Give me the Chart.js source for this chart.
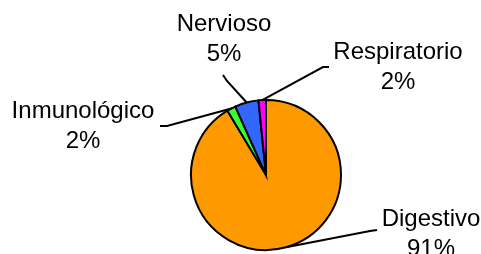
<!DOCTYPE html>
<html><head><meta charset="utf-8">
<script src="https://cdn.jsdelivr.net/npm/chart.js@4/dist/chart.umd.min.js"></script>
<style>html,body{margin:0;padding:0;background:#fff}#wrap{width:481px;height:254px}</style>
</head><body><div id="wrap"><canvas id="c" width="481" height="254"></canvas></div>
<script>
const categories = ['Digestivo', 'Inmunológico', 'Nervioso', 'Respiratorio'];
const values = [91.4, 1.9, 5.1, 1.6];
const colors = ['#FF9900', '#33FF33', '#3366FF', '#FF00FF'];

// label layout: [textCenterX, firstBaselineY, elbowX, elbowY, endX, endY]
const labelLayout = [
  [431, 226, 370, 231, 377, 230],
  [83, 118, 167, 126, 160, 126],
  [224, 31, 227, 81, 223, 75],
  [398, 59, 323, 67, 329, 67]
];

const labelsPlugin = {
  id: 'pieLabels',
  afterDatasetsDraw(chart) {
    const ctx = chart.ctx;
    const meta = chart.getDatasetMeta(0);
    const total = values.reduce((a, b) => a + b, 0);
    ctx.save();
    meta.data.forEach((arc, i) => {
      const p = arc.getProps(['x', 'y', 'startAngle', 'endAngle', 'outerRadius'], true);
      const mid = (p.startAngle + p.endAngle) / 2;
      const sx = p.x + Math.cos(mid) * p.outerRadius;
      const sy = p.y + Math.sin(mid) * p.outerRadius;
      const L = labelLayout[i];
      ctx.strokeStyle = '#000';
      ctx.lineWidth = 2;
      ctx.beginPath();
      ctx.moveTo(sx, sy);
      ctx.lineTo(L[2], L[3]);
      ctx.lineTo(L[4], L[5]);
      ctx.stroke();
      ctx.fillStyle = '#000';
      ctx.font = '24px "Liberation Sans", Arial, sans-serif';
      ctx.textAlign = 'center';
      ctx.textBaseline = 'alphabetic';
      ctx.fillText(categories[i], L[0], L[1]);
      ctx.fillText(Math.round(values[i] / total * 100) + '%', L[0], L[1] + 30);
    });
    ctx.restore();
  }
};

new Chart(document.getElementById('c'), {
  type: 'pie',
  data: {
    labels: categories,
    datasets: [{
      data: values,
      backgroundColor: colors,
      borderColor: '#000',
      borderWidth: 2,
      borderJoinStyle: 'miter'
    }]
  },
  options: {
    responsive: false,
    animation: false,
    radius: 75,
    layout: { padding: { left: 51, right: 0, top: 96, bottom: 0 } },
    plugins: { legend: { display: false }, tooltip: { enabled: false }, title: { display: false } }
  },
  plugins: [labelsPlugin]
});
</script>
</body></html>
